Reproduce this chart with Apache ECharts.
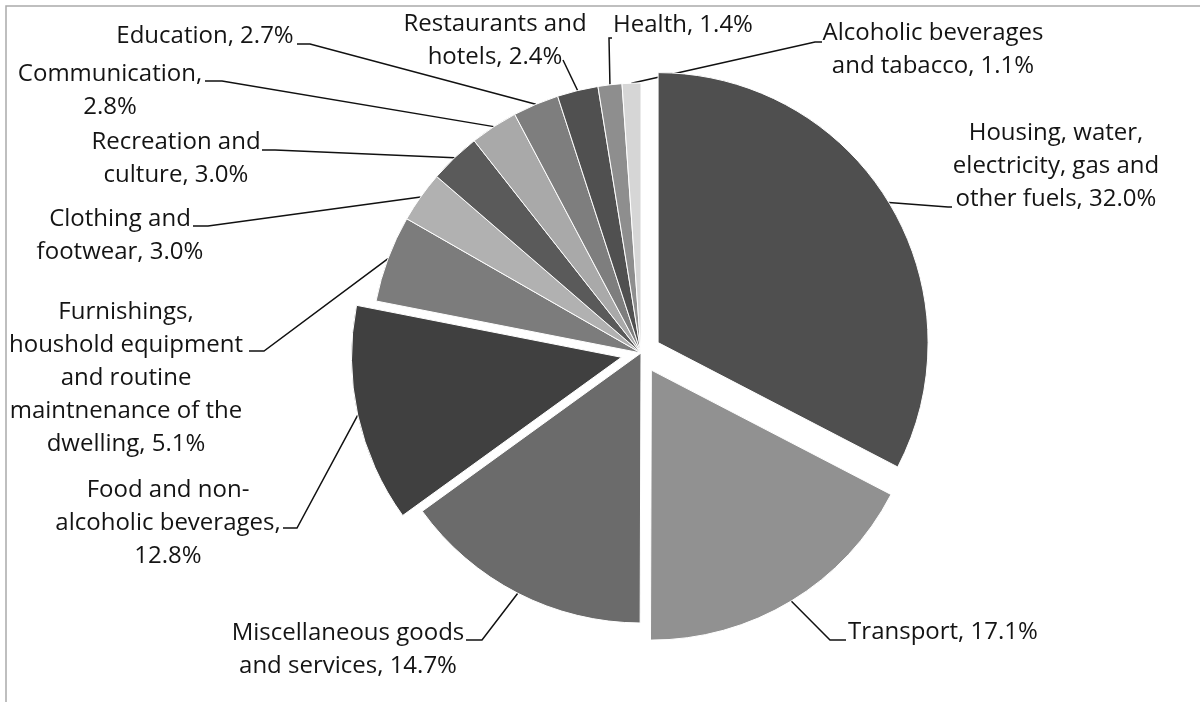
<!DOCTYPE html>
<html>
<head>
<meta charset="utf-8">
<script src="https://cdn.jsdelivr.net/npm/echarts@6/dist/echarts.min.js"></script>
<style>
  html, body { margin: 0; padding: 0; background: #ffffff; }
  #chart { width: 1200px; height: 702px; }
</style>
</head>
<body>
<div id="chart"></div>
<script>
// Structure of household consumption expenditure, % of total
const categories = [
  'Housing, water,\nelectricity, gas and\nother fuels',
  'Transport',
  'Miscellaneous goods\nand services',
  'Food and non-\nalcoholic beverages',
  'Furnishings,\nhoushold equipment\nand routine\nmaintnenance of the\ndwelling',
  'Clothing and\nfootwear',
  'Recreation and\nculture',
  'Communication',
  'Education',
  'Restaurants and\nhotels',
  'Health',
  'Alcoholic beverages\nand tabacco'
];
const shares = [32.0, 17.1, 14.7, 12.8, 5.1, 3.0, 3.0, 2.8, 2.7, 2.4, 1.4, 1.1];
// text between a category name and its share
const separators = [', ', ', ', ', ', ',\n', ', ', ', ', ', ', ',\n', ', ', ', ', ', ', ', '];
// slices pulled out of the pie
const explodedCategories = [0, 1, 3];
const sliceColors = ['#4f4f4f', '#919191', '#6b6b6b', '#404040', '#7c7c7c', '#b1b1b1',
                     '#5a5a5a', '#a9a9a9', '#7e7e7e', '#505050', '#8e8e8e', '#d6d6d6'];

// pie geometry and styling
const PIE_CENTER = [641, 353];
const PIE_RADIUS = 270;
const EXPLODE = 20;

// label block centres and leader-line bends (pixels)
const labelSpots = [
  { x: 1056, y: 166, bend: [[948, 207], [952, 207]] },
  { x: 943,  y: 632, bend: [[830, 640], [846, 640]] },
  { x: 348,  y: 650, bend: [[482, 640], [466, 640]] },
  { x: 168,  y: 523, bend: [[297, 528], [283, 528]] },
  { x: 126,  y: 378, bend: [[264, 351], [249, 351]] },
  { x: 120,  y: 236, bend: [[208, 226], [193, 226]] },
  { x: 176,  y: 159, bend: [[275, 150], [262, 150]] },
  { x: 110,  y: 91,  bend: [[222, 81],  [205, 81]] },
  { x: 205,  y: 36,  bend: [[310, 44],  [297, 44]] },
  { x: 495,  y: 41,  bend: [[563, 60],  [563, 60]] },
  { x: 683,  y: 25,  bend: [[609, 38],  [612, 38]] },
  { x: 933,  y: 50,  bend: [[815, 42],  [822, 42]] }
];

const chart = echarts.init(document.getElementById('chart'), null, { renderer: 'canvas' });

// visible slices (some pulled out)
const sliceData = categories.map((name, i) => ({
  name: name,
  value: shares[i],
  selected: explodedCategories.indexOf(i) >= 0,
  itemStyle: { color: sliceColors[i] }
}));

// same shares again, carrying the labels and leader lines only
const labelData = categories.map((name, i) => ({ name: name, value: shares[i] }));

const commonPie = {
  type: 'pie',
  center: PIE_CENTER,
  radius: PIE_RADIUS,
  startAngle: 90,
  clockwise: true,
  avoidLabelOverlap: false,
  emphasis: { disabled: true }
};

chart.setOption({
  animation: false,
  backgroundColor: '#ffffff',
  graphic: [{
    type: 'rect',
    silent: true,
    shape: { x: 6, y: 6, width: 1400, height: 900 },
    style: { fill: 'none', stroke: '#ababab', lineWidth: 1.5 }
  }],
  series: [
    Object.assign({}, commonPie, {
      name: 'slices',
      selectedMode: 'multiple',
      selectedOffset: EXPLODE,
      data: sliceData,
      itemStyle: { borderColor: '#ffffff', borderWidth: 1 },
      label: { show: false },
      labelLine: { show: false }
    }),
    Object.assign({}, commonPie, {
      name: 'labels',
      silent: true,
      selectedMode: false,
      data: labelData,
      itemStyle: { color: 'rgba(0,0,0,0)', borderWidth: 0 },
      label: {
        show: true,
        position: 'outside',
        formatter: p => p.name + separators[p.dataIndex] + p.value.toFixed(1) + '%',
        fontFamily: 'Open Sans',
        fontSize: 24,
        lineHeight: 33,
        color: '#141414',
        align: 'center'
      },
      labelLine: {
        show: true,
        length: 10,
        length2: 10,
        lineStyle: { color: '#111111', width: 1.5 }
      },
      labelLayout: function (params) {
        const i = params.dataIndex;
        const spot = labelSpots[i];
        let start = params.labelLinePoints ? params.labelLinePoints[0].slice() : spot.bend[0];
        if (explodedCategories.indexOf(i) >= 0) {
          // leader starts on the arc of the pulled-out slice
          const dx = start[0] - PIE_CENTER[0];
          const dy = start[1] - PIE_CENTER[1];
          const len = Math.sqrt(dx * dx + dy * dy) || 1;
          start = [start[0] + EXPLODE * dx / len, start[1] + EXPLODE * dy / len];
        }
        return {
          x: spot.x,
          y: spot.y,
          align: 'center',
          verticalAlign: 'middle',
          hideOverlap: false,
          labelLinePoints: [start, spot.bend[0], spot.bend[1]]
        };
      }
    })
  ]
});
</script>
</body>
</html>
